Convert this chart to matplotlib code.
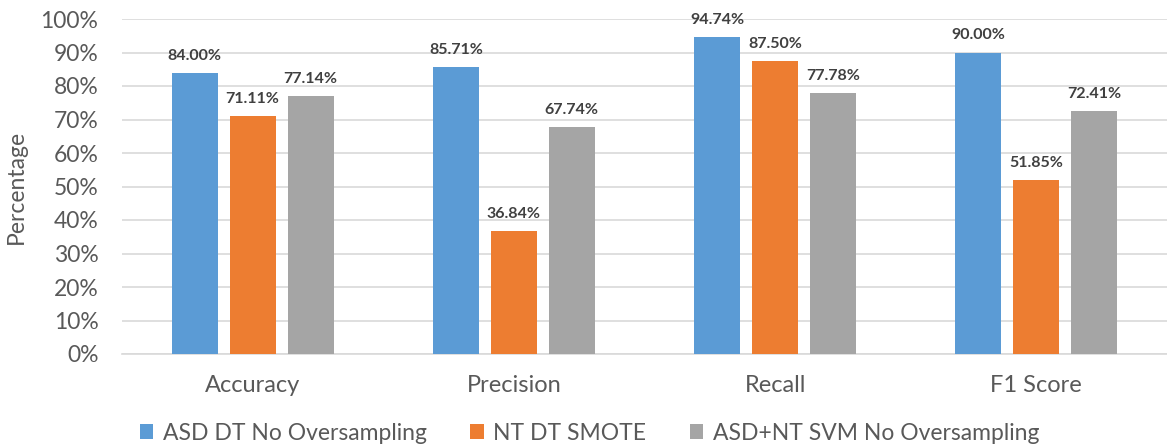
import matplotlib
matplotlib.use("Agg")
import matplotlib.pyplot as plt
import numpy as np
from matplotlib.ticker import FuncFormatter

categories = ["Accuracy", "Precision", "Recall", "F1 Score"]
series_names = ["ASD DT No Oversampling", "NT DT SMOTE", "ASD+NT SVM No Oversampling"]
asd_dt = [84.00, 85.71, 94.74, 90.00]
nt_dt_smote = [71.11, 36.84, 87.50, 51.85]
asd_nt_svm = [77.14, 67.74, 77.78, 72.41]
colors = ["#5B9BD5", "#ED7D31", "#A5A5A5"]

plt.rcParams['font.family'] = ['Lato', 'DejaVu Sans']

fig = plt.figure(figsize=(11.67, 4.47), dpi=100)
ax = fig.add_axes([122/1167, 1 - 354/447, (1167-122)/1167, (354-19)/447])

x = np.arange(len(categories))
bw = 0.176
step = 0.222
for i, (vals, c, name) in enumerate(zip([asd_dt, nt_dt_smote, asd_nt_svm], colors, series_names)):
    pos = x + (i - 1) * step
    ax.bar(pos, vals, width=bw, color=c, label=name, zorder=3)
    for p, v in zip(pos, vals):
        ax.text(p, v + 3.0, f"{v:.2f}%", ha="center", va="bottom", fontsize=11.5,
                fontweight="bold", color="#404040")

ax.set_xlim(-0.5, 3.5)
ax.set_ylim(0, 100)
ax.set_yticks(np.arange(0, 101, 10))
ax.yaxis.set_major_formatter(FuncFormatter(lambda v, p: f"{int(v)}%"))
ax.grid(axis="y", color="#D9D9D9", linewidth=1.2, zorder=0)
for s in ["top", "right", "left"]:
    ax.spines[s].set_visible(False)
ax.spines["bottom"].set_color("#D9D9D9")
ax.spines["bottom"].set_linewidth(1.2)
ax.tick_params(axis="both", length=0, labelcolor="#595959")
ax.tick_params(axis="x", pad=15, labelsize=17)
ax.tick_params(axis="y", pad=17, labelsize=16.5)
ax.set_xticks(x)
ax.set_xticklabels(categories)
ax.set_ylabel("Percentage", fontsize=16.5, color="#595959", labelpad=10)

fig.legend(loc="center", bbox_to_anchor=(0.505, 1 - 433/447), ncol=3, frameon=False,
           fontsize=16.5, labelcolor="#595959", handlelength=0.6, handleheight=0.6,
           handletextpad=0.4, columnspacing=1.9)

fig.savefig("out.png", dpi=100)
